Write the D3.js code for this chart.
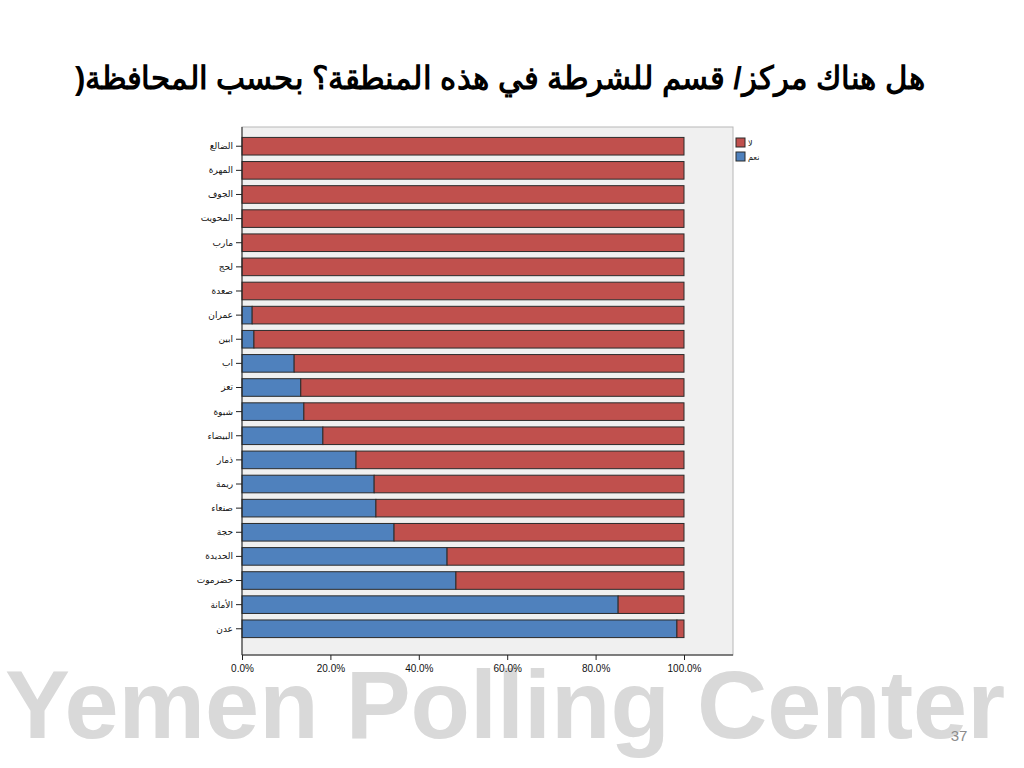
<!DOCTYPE html>
<html>
<head>
<meta charset="utf-8">
<script src="https://cdn.jsdelivr.net/npm/d3@7"></script>
<style>
  body { margin: 0; background: #fff; }
  svg { display: block; }
</style>
</head>
<body>
<svg id="chart" width="1024" height="768"></svg>
<script>
const categories = ["الضالع","المهرة","الجوف","المحويت","مارب","لحج","صعدة","عمران","ابين","اب","تعز","شبوة","البيضاء","ذمار","ريمة","صنعاء","حجة","الحديدة","حضرموت","الأمانة","عدن"];
const yesValues = [0,0,0,0,0,0,0,2.3,2.7,11.8,13.3,14.0,18.3,25.8,29.9,30.3,34.4,46.4,48.4,85.1,98.4];
const noValues = yesValues.map(v => 100 - v);
const seriesNames = ["لا","نعم"];
const xTicks = [0,20,40,60,80,100];
const titleText = "هل هناك مركز/ قسم للشرطة في هذه المنطقة؟ بحسب المحافظة(";

const svg = d3.select("#chart");
const colors = { yes: "#4f81bd", no: "#c0504d" };

// watermark
svg.append("text")
  .attr("x", 5).attr("y", 738)
  .attr("text-anchor", "start")
  .attr("font-family", "Liberation Sans, Arial, sans-serif")
  .attr("font-weight", "bold")
  .attr("font-size", 96)
  .attr("textLength", 1000)
  .attr("lengthAdjust", "spacingAndGlyphs")
  .attr("fill", "#d9d9d9")
  .text("Yemen Polling Center");

svg.append("text")
  .attr("x", 959).attr("y", 741)
  .attr("text-anchor", "middle")
  .attr("font-family", "Liberation Sans, Arial, sans-serif")
  .attr("font-size", 15)
  .attr("fill", "#8c8c8c")
  .text("37");

// title
svg.append("text")
  .attr("x", 500).attr("y", 89)
  .attr("text-anchor", "middle")
  .attr("direction", "rtl")
  .attr("font-family", "Liberation Sans, Arial, sans-serif")
  .attr("font-weight", "bold")
  .attr("font-size", 32)
  .attr("textLength", 850)
  .attr("lengthAdjust", "spacingAndGlyphs")
  .attr("fill", "#000")
  .text(titleText);

// plot area
const plot = { left: 242, right: 733, top: 127, bottom: 655 };
svg.append("rect")
  .attr("x", plot.left).attr("y", plot.top)
  .attr("width", plot.right - plot.left).attr("height", plot.bottom - plot.top)
  .attr("fill", "#f0f0f0")
  .attr("stroke", "#b8b8b8").attr("stroke-width", 1);

const x = d3.scaleLinear().domain([0, 100]).range([242, 684]);
const y = d3.scaleBand().domain(categories).range([135, 640]).paddingInner(0.27).paddingOuter(0.1);

const g = svg.append("g");
categories.forEach((c, i) => {
  g.append("rect")
    .attr("x", x(0)).attr("y", y(c))
    .attr("width", x(yesValues[i]) - x(0)).attr("height", y.bandwidth())
    .attr("fill", colors.yes).attr("stroke", "#2b2b2b").attr("stroke-width", 1);
  g.append("rect")
    .attr("x", x(yesValues[i])).attr("y", y(c))
    .attr("width", x(100) - x(yesValues[i])).attr("height", y.bandwidth())
    .attr("fill", colors.no).attr("stroke", "#2b2b2b").attr("stroke-width", 1);
});

// axes
const xAxis = d3.axisBottom(x).tickValues(xTicks).tickFormat(d => d.toFixed(1) + "%").tickSize(5).tickSizeOuter(0);
const xg = svg.append("g").attr("transform", `translate(0,${plot.bottom})`).call(xAxis);
xg.select(".domain").attr("d", `M${plot.left},0H${plot.right}`).attr("stroke", "#222");
xg.selectAll("line").attr("stroke", "#222");
xg.selectAll("text").attr("font-family", "Liberation Sans, Arial, sans-serif").attr("font-size", 10).attr("fill", "#111").attr("dy", "0.9em");

const yAxis = d3.axisLeft(y).tickSize(6).tickSizeOuter(0);
const yg = svg.append("g").attr("transform", `translate(${plot.left},0)`).call(yAxis);
yg.select(".domain").attr("d", `M0,${plot.top}V${plot.bottom}`).attr("stroke", "#222");
yg.selectAll("line").attr("stroke", "#222");
yg.selectAll("text").attr("font-family", "DejaVu Sans, sans-serif").attr("font-size", 9).attr("fill", "#111");

// legend
const legend = svg.append("g").attr("transform", "translate(736,138)");
[["no", seriesNames[0]], ["yes", seriesNames[1]]].forEach((d, i) => {
  legend.append("rect").attr("x", 0).attr("y", i * 14).attr("width", 9).attr("height", 9)
    .attr("fill", colors[d[0]]).attr("stroke", "#2b2b2b").attr("stroke-width", 1);
  legend.append("text").attr("x", 12).attr("y", i * 14 + 8)
    .attr("font-family", "DejaVu Sans, sans-serif").attr("font-size", 8).attr("fill", "#111")
    .text(d[1]);
});
</script>
</body>
</html>
